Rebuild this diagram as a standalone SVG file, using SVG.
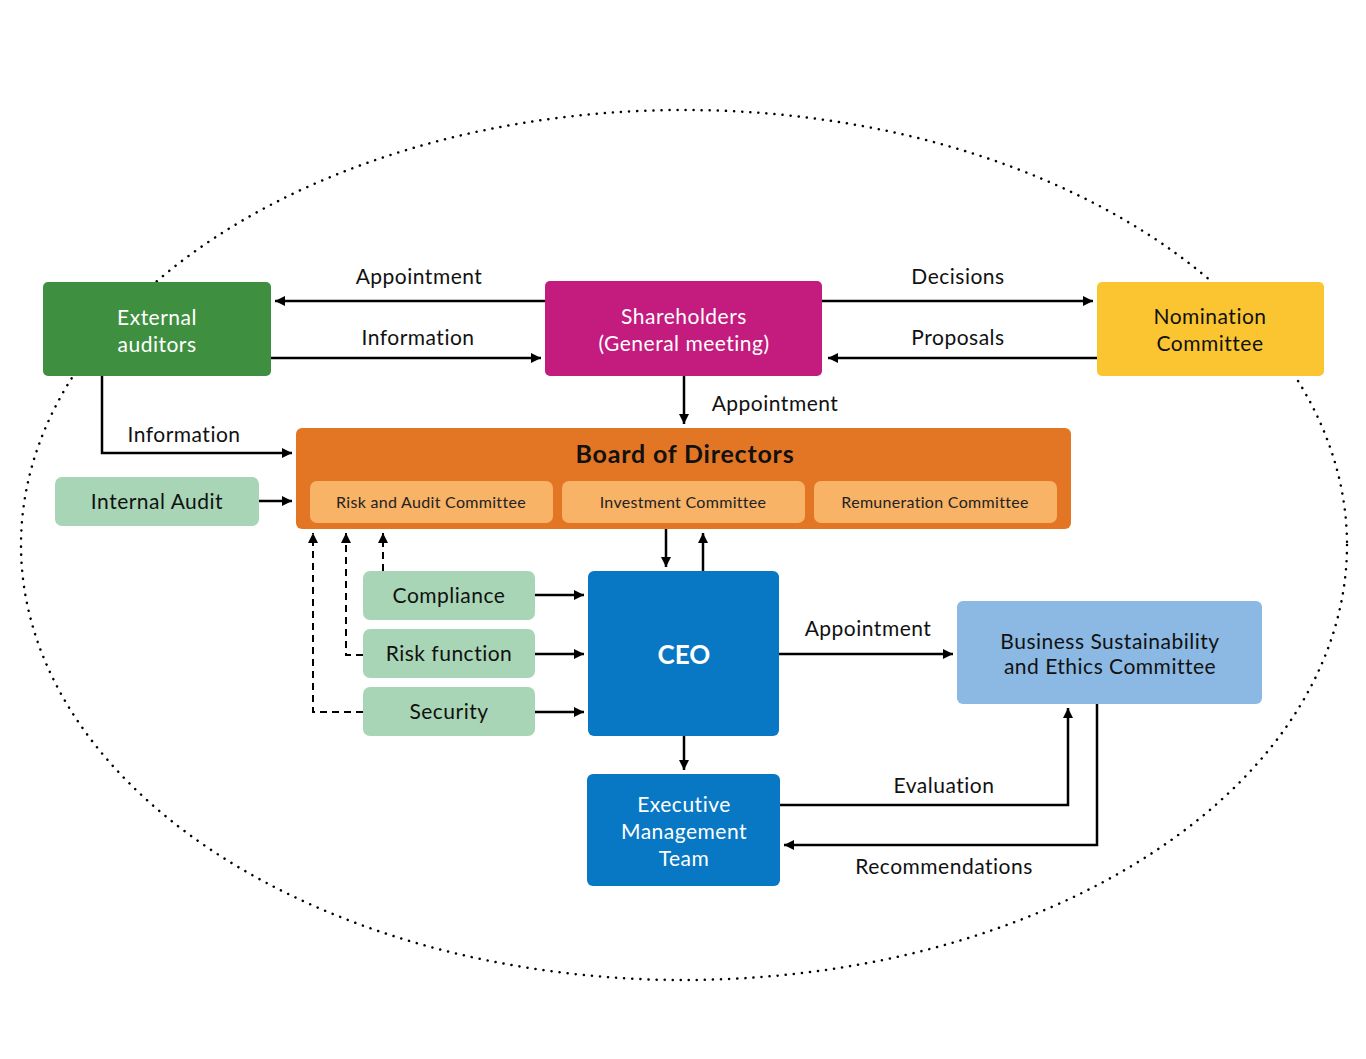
<svg xmlns="http://www.w3.org/2000/svg" width="1366" height="1059" viewBox="0 0 1366 1059">
<defs>
<marker id="a" viewBox="0 0 10 10" refX="10" refY="5" markerWidth="6.5" markerHeight="6.5" markerUnits="userSpaceOnUse" orient="auto"><path d="M0,0L10,5L0,10z" fill="#000"/></marker>
<marker id="b" viewBox="0 0 10 10" refX="10" refY="5" markerWidth="10" markerHeight="10" orient="auto" markerUnits="userSpaceOnUse"><path d="M0,0L10,5L0,10z" fill="#000"/></marker>
<style>
text{font-family:Lato,"Open Sans","Liberation Sans",sans-serif;text-anchor:middle;}
.l{font-size:21px;fill:#111;letter-spacing:0.5px}
.w{font-size:21px;fill:#fff;letter-spacing:0.5px}
.d{font-size:21px;fill:#111;letter-spacing:0.5px}
.s{font-size:16px;fill:#222;letter-spacing:0.3px}
.c{fill:none;stroke:#000;stroke-width:2.5;marker-end:url(#b)}
.ds{stroke-dasharray:7,5;stroke-width:2}
</style>
</defs>
<rect width="1366" height="1059" fill="#fff"/>
<ellipse cx="684" cy="545" rx="663" ry="435" fill="none" stroke="#000" stroke-width="2.5" stroke-dasharray="0.1,8" stroke-linecap="round"/>
<g id="connectors">
<path class="c" d="M545,301H275"/>
<path class="c" d="M271,358H541"/>
<path class="c" d="M822,301H1093"/>
<path class="c" d="M1097,358H828"/>
<path class="c" d="M684,376V424"/>
<path class="c" d="M102,376V453H292"/>
<path class="c" d="M259,501H292"/>
<path class="c" d="M666,529V567"/>
<path class="c" d="M703,571V533"/>
<path class="c" d="M535,595H584"/>
<path class="c" d="M535,654H584"/>
<path class="c" d="M535,712H584"/>
<path class="c ds" d="M383,571V533"/>
<path class="c ds" d="M363,655H346V533"/>
<path class="c ds" d="M363,712H313V533"/>
<path class="c" d="M779,654H953"/>
<path class="c" d="M684,736V770"/>
<path class="c" d="M780,805H1068V708"/>
<path class="c" d="M1097,704V845H784"/>
<text class="l" x="419" y="284">Appointment</text>
<text class="l" x="418" y="345">Information</text>
<text class="l" x="958" y="284">Decisions</text>
<text class="l" x="958" y="345">Proposals</text>
<text class="l" x="775" y="411">Appointment</text>
<text class="l" x="184" y="442">Information</text>
<text class="l" x="868" y="636">Appointment</text>
<text class="l" x="944" y="793">Evaluation</text>
<text class="l" x="944" y="874">Recommendations</text>
</g>
<g id="external-auditors"><rect x="43" y="282" width="228" height="94" rx="5" fill="#3f8f40"/><text class="w" x="157" y="325">External</text><text class="w" x="157" y="352">auditors</text></g>
<g id="shareholders"><rect x="545" y="281" width="277" height="95" rx="5" fill="#c41b7e"/><text class="w" x="684" y="324">Shareholders</text><text class="w" x="684" y="351">(General meeting)</text></g>
<g id="nomination"><rect x="1097" y="282" width="227" height="94" rx="5" fill="#fbc531"/><text class="d" x="1210" y="324">Nomination</text><text class="d" x="1210" y="351">Committee</text></g>
<g id="board"><rect x="296" y="428" width="775" height="101" rx="6" fill="#e37625"/><text x="685" y="463" style="font-size:25px;font-weight:bold;fill:#111;letter-spacing:0.8px">Board of Directors</text>
<rect x="310" y="481" width="243" height="42" rx="7" fill="#f8b366"/><text class="s" x="431" y="508">Risk and Audit Committee</text>
<rect x="562" y="481" width="243" height="42" rx="7" fill="#f8b366"/><text class="s" x="683" y="508">Investment Committee</text>
<rect x="814" y="481" width="243" height="42" rx="7" fill="#f8b366"/><text class="s" x="935" y="508">Remuneration Committee</text></g>
<g id="internal-audit"><rect x="55" y="477" width="204" height="49" rx="7" fill="#a8d5b5"/><text class="d" x="157" y="509">Internal Audit</text></g>
<g id="compliance"><rect x="363" y="571" width="172" height="49" rx="7" fill="#a8d5b5"/><text class="d" x="449" y="603">Compliance</text></g>
<g id="risk-function"><rect x="363" y="629" width="172" height="49" rx="7" fill="#a8d5b5"/><text class="d" x="449" y="661">Risk function</text></g>
<g id="security"><rect x="363" y="687" width="172" height="49" rx="7" fill="#a8d5b5"/><text class="d" x="449" y="719">Security</text></g>
<g id="ceo"><rect x="588" y="571" width="191" height="165" rx="6" fill="#0878c4"/><text x="684" y="664" style="font-size:26px;font-weight:bold;fill:#fff">CEO</text></g>
<g id="bsec"><rect x="957" y="601" width="305" height="103" rx="6" fill="#8cb9e3"/><text class="d" x="1110" y="649">Business Sustainability</text><text class="d" x="1110" y="674">and Ethics Committee</text></g>
<g id="emt"><rect x="587" y="774" width="193" height="112" rx="6" fill="#0878c4"/><text class="w" x="684" y="812">Executive</text><text class="w" x="684" y="839">Management</text><text class="w" x="684" y="866">Team</text></g>
</svg>
